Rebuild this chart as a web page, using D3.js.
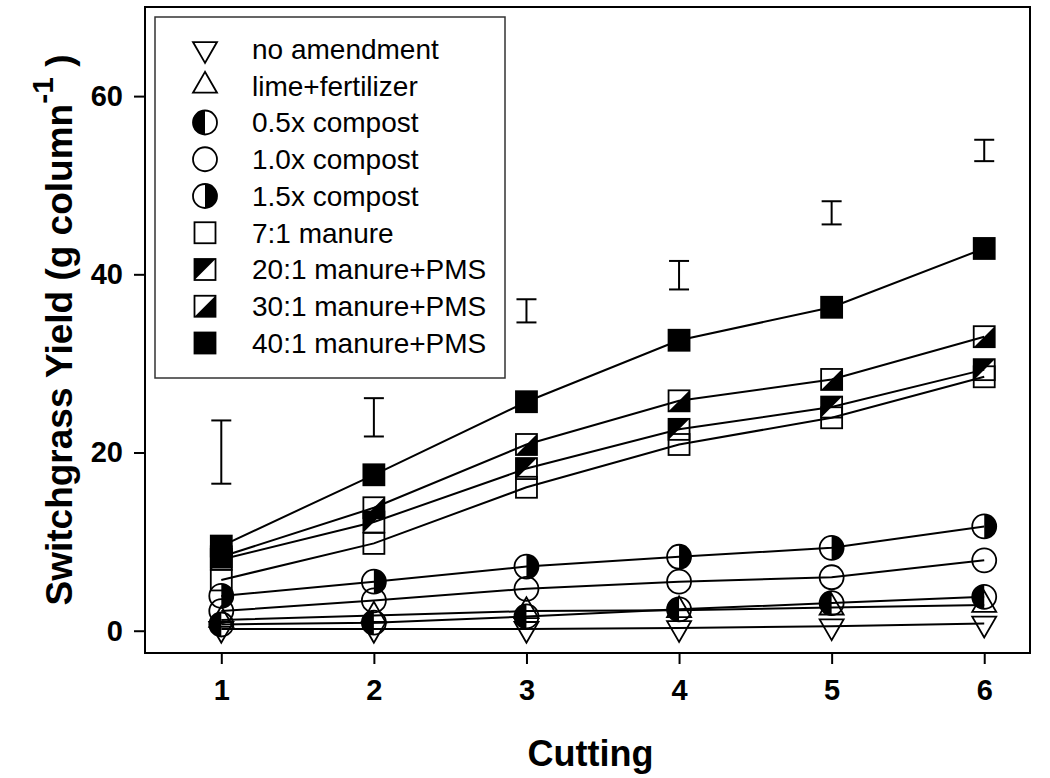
<!DOCTYPE html>
<html>
<head>
<meta charset="utf-8">
<script src="https://cdn.jsdelivr.net/npm/d3@7"></script>
<style>
  body { margin: 0; background: #fff; }
  svg { display: block; font-family: "Liberation Sans", Arial, sans-serif; }
</style>
</head>
<body>
<div id="wrapper"></div>
<script>
// Values
const cuttings = [1, 2, 3, 4, 5, 6];
const seriesNames = ["no amendment", "lime+fertilizer", "0.5x compost", "1.0x compost", "1.5x compost",
  "7:1 manure", "20:1 manure+PMS", "30:1 manure+PMS", "40:1 manure+PMS"];
const seriesSymbols = ["triDown", "triUp", "circleLeft", "circle", "circleRight",
  "square", "squareUL", "squareLR", "squareFull"];
const noAmendment = [0.2, 0.2, 0.2, 0.3, 0.5, 0.8];
const limeFertilizer = [1.2, 1.7, 2.2, 2.3, 2.6, 2.9];
const compost05 = [0.7, 0.9, 1.6, 2.4, 3.1, 3.8];
const compost10 = [2.2, 3.4, 4.7, 5.5, 6.0, 7.9];
const compost15 = [3.9, 5.5, 7.2, 8.3, 9.3, 11.7];
const manure7 = [5.7, 9.8, 16.1, 20.9, 23.9, 28.5];
const manure20 = [8.0, 12.2, 18.2, 22.6, 25.1, 29.3];
const manure30 = [8.3, 13.8, 20.9, 25.8, 28.2, 33.0];
const manure40 = [9.5, 17.5, 25.7, 32.6, 36.3, 42.9];
const errLow = [16.5, 21.8, 34.6, 38.3, 45.6, 52.7];
const errHigh = [23.6, 26.1, 37.2, 41.5, 48.2, 55.1];
const yTicks = [0, 20, 40, 60];

const seriesValues = [noAmendment, limeFertilizer, compost05, compost10, compost15,
  manure7, manure20, manure30, manure40];

const width = 1050;
const height = 778;

const svg = d3.select("#wrapper").append("svg")
  .attr("width", width)
  .attr("height", height);

const x = d3.scaleLinear().domain([0.5, 6.3]).range([145, 1030]);
const y = d3.scaleLinear().domain([-2.5, 70]).range([653, 7]);

// frame
svg.append("rect")
  .attr("x", x.range()[0]).attr("y", y.range()[1])
  .attr("width", x.range()[1] - x.range()[0])
  .attr("height", y.range()[0] - y.range()[1])
  .attr("fill", "none").attr("stroke", "#000").attr("stroke-width", 2);

// axes
const yAxis = svg.append("g")
  .attr("transform", `translate(${x.range()[0]},0)`)
  .call(d3.axisLeft(y).tickValues(yTicks).tickSize(11).tickPadding(11));
const xAxis = svg.append("g")
  .attr("transform", `translate(0,${y.range()[0]})`)
  .call(d3.axisBottom(x).tickValues(cuttings).tickFormat(d3.format("d")).tickSize(11).tickPadding(15));

[xAxis, yAxis].forEach(a => {
  a.select(".domain").remove();
  a.selectAll("line").attr("stroke", "#000").attr("stroke-width", 2);
  a.selectAll("text")
    .attr("fill", "#000")
    .style("font-family", "'Liberation Sans', Arial, sans-serif")
    .style("font-size", "29px")
    .style("font-weight", "bold");
});

// axis titles
svg.append("text")
  .attr("x", x(3.42)).attr("y", 766)
  .attr("text-anchor", "middle")
  .style("font-size", "36px").style("font-weight", "bold")
  .text("Cutting");

const yTitle = svg.append("text")
  .attr("transform", "translate(72,330) rotate(-90)")
  .attr("text-anchor", "middle")
  .style("font-size", "37px").style("font-weight", "bold");
yTitle.append("tspan").text("Switchgrass Yield (g column");
yTitle.append("tspan").attr("dy", -19).style("font-size", "30px").text("-1");
yTitle.append("tspan").attr("dy", 19).text(" )");

// symbols
const tri = 24, triH = tri * Math.sqrt(3) / 2, rC = 12, sq = 21;

function drawSymbol(g, type, cx, cy) {
  const s = g.append("g").attr("transform", `translate(${cx},${cy})`);
  const line = sel => sel.attr("fill", "none").attr("stroke", "#000").attr("stroke-width", 1.8);
  if (type === "triDown" || type === "triUp") {
    const k = type === "triUp" ? 1 : -1;
    const pts = [[0, -k * 2 * triH / 3], [-tri / 2, k * triH / 3], [tri / 2, k * triH / 3]];
    s.append("path").attr("d", d3.line()(pts) + "Z").call(line);
  } else if (type.startsWith("circle")) {
    if (type === "circleLeft")
      s.append("path").attr("d", `M0,${-rC} A${rC},${rC} 0 0 0 0,${rC} Z`).attr("fill", "#000");
    if (type === "circleRight")
      s.append("path").attr("d", `M0,${-rC} A${rC},${rC} 0 0 1 0,${rC} Z`).attr("fill", "#000");
    s.append("circle").attr("r", rC).call(line);
  } else {
    const h = sq / 2;
    if (type === "squareFull")
      s.append("rect").attr("x", -h).attr("y", -h).attr("width", sq).attr("height", sq).attr("fill", "#000");
    if (type === "squareUL")
      s.append("path").attr("d", `M${-h},${-h}L${h},${-h}L${-h},${h}Z`).attr("fill", "#000");
    if (type === "squareLR")
      s.append("path").attr("d", `M${h},${-h}L${h},${h}L${-h},${h}Z`).attr("fill", "#000");
    s.append("rect").attr("x", -h).attr("y", -h).attr("width", sq).attr("height", sq).call(line);
  }
}

// series lines and markers
const lineGen = d3.line().x((d, i) => x(cuttings[i])).y(d => y(d));
const plot = svg.append("g");
seriesValues.forEach((vals, si) => {
  plot.append("path")
    .attr("d", lineGen(vals))
    .attr("fill", "none").attr("stroke", "#000").attr("stroke-width", 2);
  vals.forEach((v, i) => drawSymbol(plot, seriesSymbols[si], x(cuttings[i]), y(v)));
});

// error bars
const eb = svg.append("g").attr("stroke", "#000").attr("stroke-width", 2);
cuttings.forEach((c, i) => {
  const cx = x(c);
  eb.append("line").attr("x1", cx).attr("x2", cx).attr("y1", y(errLow[i])).attr("y2", y(errHigh[i]));
  [errLow[i], errHigh[i]].forEach(v =>
    eb.append("line").attr("x1", cx - 10).attr("x2", cx + 10).attr("y1", y(v)).attr("y2", y(v)));
});

// legend
const legend = svg.append("g");
legend.append("rect")
  .attr("x", 155).attr("y", 17).attr("width", 350).attr("height", 361)
  .attr("fill", "#fff").attr("stroke", "#333").attr("stroke-width", 1.5);
seriesNames.forEach((name, i) => {
  const ry = 49 + i * 36.75;
  drawSymbol(legend, seriesSymbols[i], 205, ry);
  legend.append("text")
    .attr("x", 252).attr("y", ry)
    .attr("dy", "0.35em")
    .style("font-size", "28px")
    .text(name);
});
</script>
</body>
</html>
